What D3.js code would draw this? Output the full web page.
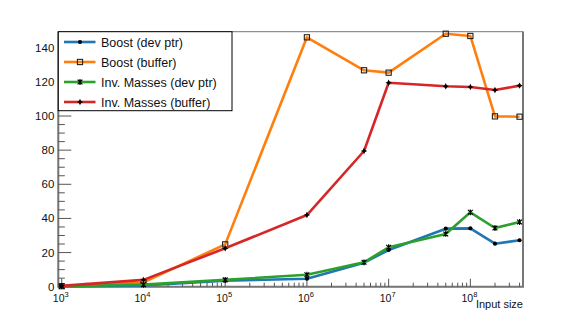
<!DOCTYPE html>
<html>
<head>
<meta charset="utf-8">
<script src="https://cdn.jsdelivr.net/npm/d3@7"></script>
<style>
  html, body { margin: 0; padding: 0; background: #fff; }
  svg { display: block; font-family: "Liberation Sans", Arial, Helvetica, sans-serif; }
</style>
</head>
<body>
<svg id="chart" width="581" height="319"></svg>
<script>
// ---- data ----
const inputSizes = [1e3, 1e4, 1e5, 1e6, 5e6, 1e7, 5e7, 1e8, 2e8, 4e8];
const boostDevPtr = [0.2, 0.8, 3.5, 4.7, 14.1, 21.5, 34.0, 34.2, 25.2, 27.2];
const boostBuffer = [0.3, 2.5, 24.8, 146.1, 126.8, 125.4, 148.2, 146.9, 99.8, 99.6];
const invMassesDevPtr = [0.3, 1.2, 4.0, 7.0, 14.3, 23.1, 30.9, 43.6, 34.4, 37.9];
const invMassesBuffer = [0.5, 4.0, 22.5, 42.0, 79.5, 119.5, 117.4, 117.0, 115.2, 117.8];
const seriesNames = ["Boost (dev ptr)", "Boost (buffer)", "Inv. Masses (dev ptr)", "Inv. Masses (buffer)"];
const seriesColors = ["#1f77b4", "#ff7f0e", "#2ca02c", "#d62728"];
const seriesMarkers = ["circle", "square", "star", "diamondStar"];
const yTicks = [0, 20, 40, 60, 80, 100, 120, 140];
const xDecades = [1e3, 1e4, 1e5, 1e6, 1e7, 1e8];
const xTitle = "Input size";

const seriesValues = [boostDevPtr, boostBuffer, invMassesDevPtr, invMassesBuffer];

// ---- layout ----
const L = 58.3, R = 523, T = 31.7, B = 286.7;
const svg = d3.select("#chart");

const x = d3.scaleLog().domain([Math.pow(10, 2.958), Math.pow(10, 8.644)]).range([L, R]);
const y = d3.scaleLinear().domain([0, 149.4]).range([B, T]);

const axisColor = "#777";

// frame
svg.append("rect").attr("x", L).attr("y", T).attr("width", R - L).attr("height", B - T)
  .attr("fill", "none").attr("stroke", axisColor).attr("stroke-width", 1);
svg.append("path").attr("d", `M${L},${T}V${B}H${R}V${T}`)
  .attr("fill", "none").attr("stroke", axisColor).attr("stroke-width", 2);

// y axis ticks
const yMinor = d3.range(0, 149.4, 5);
svg.append("g").selectAll("line").data(yMinor).join("line")
  .attr("x1", L).attr("x2", d => L + (d % 20 === 0 ? 13 : 6.5))
  .attr("y1", d => y(d)).attr("y2", d => y(d))
  .attr("stroke", "#555").attr("stroke-width", 1);
svg.append("g").selectAll("text").data(yTicks).join("text")
  .attr("x", L - 4).attr("y", d => y(d) + 4)
  .attr("text-anchor", "end").attr("font-size", "11.5px").attr("fill", "#111")
  .text(d => d);

// x axis ticks (log)
const xMinor = [];
for (let e = 3; e <= 8; e++) {
  for (let m = 1; m <= 9; m++) {
    const v = m * Math.pow(10, e);
    if (v >= x.domain()[0] && v <= x.domain()[1]) xMinor.push(v);
  }
}
svg.append("g").selectAll("line").data(xMinor).join("line")
  .attr("x1", d => x(d)).attr("x2", d => x(d))
  .attr("y1", B).attr("y2", d => B - (xDecades.includes(d) ? 8 : 4))
  .attr("stroke", "#555").attr("stroke-width", 1);
const xl = svg.append("g").selectAll("text").data(xDecades).join("text")
  .attr("x", d => x(d) - 1).attr("y", 301.5)
  .attr("text-anchor", "middle").attr("font-size", "10.5px").attr("fill", "#111");
xl.append("tspan").text("10");
xl.append("tspan").attr("dy", -5).attr("font-size", "7.5px").text(d => Math.round(Math.log10(d)));

svg.append("text").attr("x", R).attr("y", 307.5).attr("text-anchor", "end")
  .attr("font-size", "11px").attr("fill", "#111").text(xTitle);

// markers
function drawMarker(g, type, cx, cy) {
  if (type === "circle") {
    g.append("circle").attr("cx", cx).attr("cy", cy).attr("r", 2.1).attr("fill", "#000");
  } else if (type === "square") {
    g.append("rect").attr("x", cx - 2.6).attr("y", cy - 2.6).attr("width", 5.2).attr("height", 5.2)
      .attr("fill", "none").attr("stroke", "#222").attr("stroke-width", 1.1);
  } else if (type === "star") {
    const s = 2.4;
    const p = `M${cx - s},${cy - s}L${cx + s},${cy + s}M${cx - s},${cy + s}L${cx + s},${cy - s}M${cx},${cy - s - 0.5}L${cx},${cy + s + 0.5}`;
    g.append("path").attr("d", p).attr("stroke", "#000").attr("stroke-width", 1.2).attr("fill", "none");
  } else {
    const s = 3.2, i = 1.1;
    const p = `M${cx},${cy - s}L${cx + i},${cy - i}L${cx + s},${cy}L${cx + i},${cy + i}L${cx},${cy + s}L${cx - i},${cy + i}L${cx - s},${cy}L${cx - i},${cy - i}Z`;
    g.append("path").attr("d", p).attr("fill", "#000");
  }
}

// series
const line = d3.line().x(d => x(d[0])).y(d => y(d[1]));
seriesValues.forEach((vals, k) => {
  const pts = inputSizes.map((s, i) => [s, vals[i]]);
  const g = svg.append("g");
  g.append("path").datum(pts).attr("d", line)
    .attr("fill", "none").attr("stroke", seriesColors[k]).attr("stroke-width", 2.6)
    .attr("stroke-linejoin", "round");
  pts.forEach(p => drawMarker(g, seriesMarkers[k], x(p[0]), y(p[1])));
});

// legend
const lg = svg.append("g");
lg.append("rect").attr("x", L).attr("y", T).attr("width", 232 - L).attr("height", 110.7 - T)
  .attr("fill", "#fff").attr("stroke", "#000").attr("stroke-width", 1);
seriesNames.forEach((name, k) => {
  const cy = 42 + k * 20;
  lg.append("line").attr("x1", 64).attr("x2", 95.5).attr("y1", cy).attr("y2", cy)
    .attr("stroke", seriesColors[k]).attr("stroke-width", 2.6);
  drawMarker(lg, seriesMarkers[k], 80, cy);
  lg.append("text").attr("x", 101).attr("y", cy + 4.5).attr("font-size", "12.5px")
    .attr("fill", "#111").text(name);
});
</script>
</body>
</html>
